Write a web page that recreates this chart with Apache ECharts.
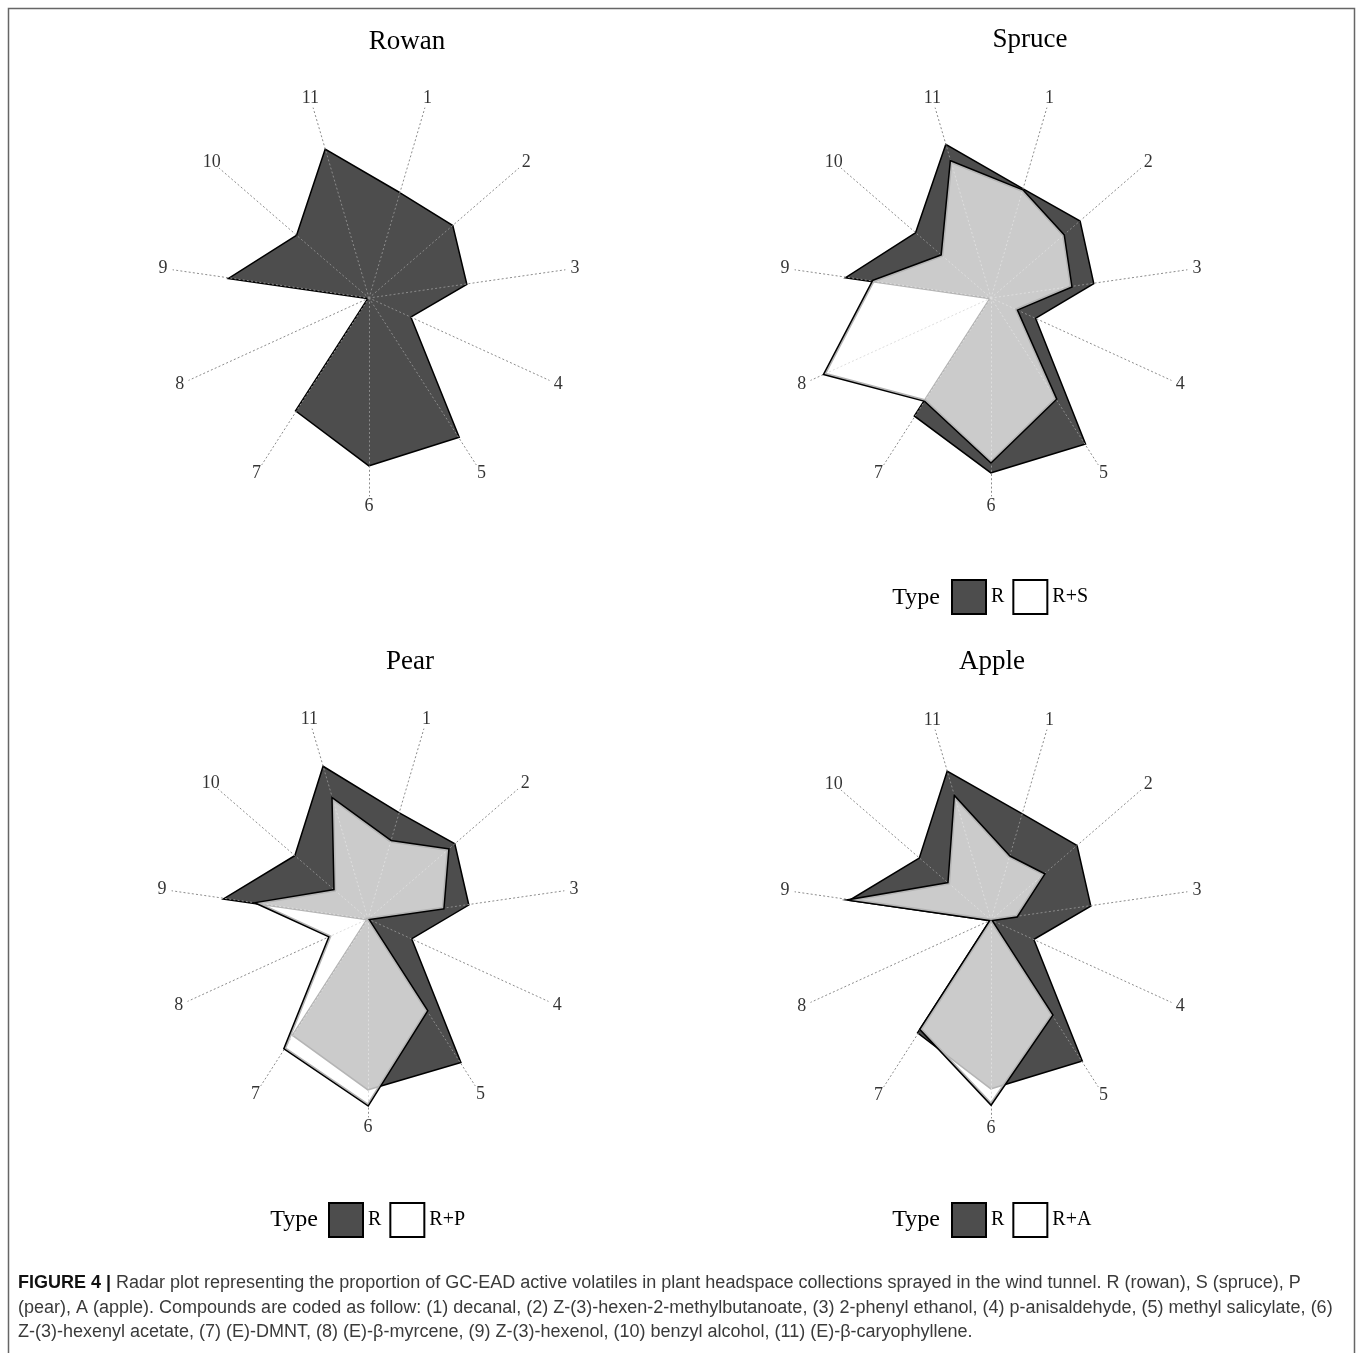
<!DOCTYPE html>
<html><head><meta charset="utf-8">
<script src="https://cdn.jsdelivr.net/npm/echarts@6/dist/echarts.min.js"></script>
<style>html,body{margin:0;padding:0;background:#fff}#c{width:1360px;height:1353px}</style>
</head><body><div id="c"></div>
<script>
// ---- data (values in % of the axis length, compounds 1..11) ----
const compounds = ['1','2','3','4','5','6','7','8','9','10','11'];
const panelTitles = ['Rowan','Spruce','Pear','Apple'];
const rName = 'R';
const mixNames = [null,'R+S','R+P','R+A'];
const rowanR   = [54.5,55,49,22.5,82.5,83.5,67,0,70,47.5,77];
const spruceR  = [56.5,58.5,51.5,24,86.5,87,70,0,72.5,49.5,79.5];
const spruceRS = [56,48,40.5,14,60,82,61,91.5,59.5,32.5,71];
const pearR    = [55,57,50.5,23.5,85,85,69,0,72,48,79];
const pearRP   = [40.5,53,38,0,54.5,93,77,21,56,22,62.5];
const appleR   = [55,56.5,50,23,83.5,84,67,0,70.5,47,77];
const appleRA  = [33,35,13,0,56.5,92,65,0,70.5,28,64];
const legendTitle = 'Type';
const captionLines = [
  '{b|FIGURE 4 |} Radar plot representing the proportion of GC-EAD active volatiles in plant headspace collections sprayed in the wind tunnel. R (rowan), S (spruce), P',
  '(pear), A (apple). Compounds are coded as follow: (1) decanal, (2) Z-(3)-hexen-2-methylbutanoate, (3) 2-phenyl ethanol, (4) p-anisaldehyde, (5) methyl salicylate, (6)',
  'Z-(3)-hexenyl acetate, (7) (E)-DMNT, (8) (E)-\u03b2-myrcene, (9) Z-(3)-hexenol, (10) benzyl alcohol, (11) (E)-\u03b2-caryophyllene.'
];

// ---- layout ----
const panels = [
  {center:[369,298], title:[407,42], rVals:rowanR, mVals:null},
  {center:[991,298], title:[1030,40], rVals:spruceR, mVals:spruceRS, legend:[951,579], type:[916,598]},
  {center:[368,919], title:[410,662], rVals:pearR, mVals:pearRP, legend:[328,1202], type:[294,1220]},
  {center:[991,920], title:[992,662], rVals:appleR, mVals:appleRA, legend:[951,1202], type:[916,1220]}
];
const R_AXIS = 198, R_LABEL = 208, PX_PER_UNIT = 2;
const SERIF = '"Liberation Serif", "Times New Roman", serif';
const SANS = '"Liberation Sans", Arial, sans-serif';
const DARK = '#4d4d4d';
// radar indicators run counter-clockwise; list 1, 11, 10 ... 2
const order = [0,10,9,8,7,6,5,4,3,2,1];
const reorder = a => order.map(i => a[i]);

const radar = [], polar = [], angleAxis = [], radiusAxis = [], series = [], legend = [], graphic = [];
panels.forEach((p, k) => {
  radar.push({
    center: p.center, radius: R_AXIS, startAngle: 90 - 180/compounds.length,
    shape: 'polygon', z: 2,
    indicator: order.map(i => ({name: compounds[i], max: R_AXIS / PX_PER_UNIT, min: 0})),
    axisName: {show: false},
    splitNumber: 1,
    splitLine: {show: false}, splitArea: {show: false},
    axisLine: {lineStyle: {color: '#8c8c8c', width: 1, type: [1.2, 3]}},
    axisTick: {show: false}, axisLabel: {show: false}
  });
  polar.push({center: p.center, radius: R_LABEL});
  angleAxis.push({polarIndex: k, type: 'category', data: compounds, startAngle: 90, clockwise: true,
    boundaryGap: true, axisLine: {show: false}, axisTick: {show: false}, axisLabel: {show: false},
    splitLine: {show: false}, splitArea: {show: false}});
  radiusAxis.push({polarIndex: k, type: 'value', min: 0, max: 1, axisLine: {show: false},
    axisTick: {show: false}, axisLabel: {show: false}, splitLine: {show: false}});
  series.push({
    type: 'scatter', coordinateSystem: 'polar', polarIndex: k, silent: true, symbolSize: 1,
    itemStyle: {color: 'rgba(0,0,0,0)'}, z: 5,
    label: {show: true, position: 'inside', formatter: '{b}', color: '#000', fontFamily: SERIF, fontSize: 18},
    data: compounds.map(c => ({name: c, value: [1, c]}))
  });
  series.push({
    type: 'radar', radarIndex: k, z: 1, symbol: 'none', silent: true,
    data: [{name: rName, value: reorder(p.rVals),
      lineStyle: {color: '#000', width: 3, join: 'miter'},
      areaStyle: {color: DARK, opacity: 1}}]
  });
  if (p.mVals) {
    series.push({
      type: 'radar', radarIndex: k, z: 3, symbol: 'none', silent: true,
      data: [{name: mixNames[k], value: reorder(p.mVals),
        lineStyle: {color: '#000', width: 3, join: 'miter'},
        areaStyle: {color: '#ffffff', opacity: 0.71}}]
    });
    legend.push({
      left: p.legend[0], top: p.legend[1], orient: 'horizontal', padding: 0,
      itemWidth: 34, itemHeight: 34, itemGap: 8, icon: 'rect', selectedMode: false,
      textStyle: {fontFamily: SERIF, fontSize: 20, color: '#000'},
      data: [
        {name: rName, itemStyle: {color: DARK, borderColor: '#000', borderWidth: 2, opacity: 1}},
        {name: mixNames[k], itemStyle: {color: '#fff', borderColor: '#000', borderWidth: 2, opacity: 1}}
      ]
    });
    graphic.push({type: 'text', silent: true, style: {text: legendTitle, x: p.type[0], y: p.type[1],
      align: 'center', verticalAlign: 'middle', font: '24px ' + SERIF, fill: '#000'}});
  }
  graphic.push({type: 'text', silent: true, style: {text: panelTitles[k], x: p.title[0], y: p.title[1],
    align: 'center', verticalAlign: 'middle', font: '27px ' + SERIF, fill: '#000'}});
});

graphic.push({type: 'rect', silent: true, shape: {x: 8.5, y: 8.5, width: 1346, height: 1400},
  style: {fill: 'none', stroke: '#666', lineWidth: 1.5}});
graphic.push({type: 'text', silent: true, style: {
  text: captionLines.join('\n'), x: 18, y: 1271, align: 'left', verticalAlign: 'top',
  font: '18px ' + SANS, fill: '#3a3a3a', lineHeight: 24.5,
  rich: {b: {fontWeight: 'bold', fill: '#111', fontSize: 18, fontFamily: SANS, lineHeight: 24.5}}
}});

const chart = echarts.init(document.getElementById('c'), null, {renderer: 'canvas'});
chart.setOption({
  animation: false, backgroundColor: '#fff',
  radar, polar, angleAxis, radiusAxis, series, legend, graphic
});
</script></body></html>
